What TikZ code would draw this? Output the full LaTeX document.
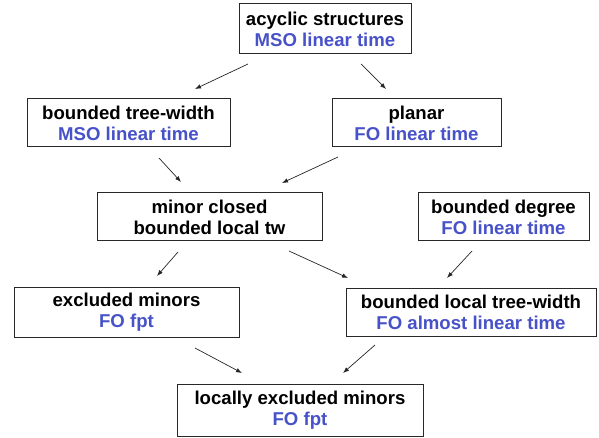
\documentclass[tikz,border=0pt]{standalone}
\usepackage{fontspec}
\setmainfont{Liberation Sans}
\usetikzlibrary{arrows.meta}
\definecolor{fblue}{RGB}{72,82,200}
\definecolor{boxline}{RGB}{40,40,40}
\tikzset{
  box/.style={draw=boxline, line width=1pt, fill=white, inner sep=0pt, align=center,
    font=\fontsize{18.6}{21}\selectfont\bfseries},
  arr/.style={-{Latex[length=6pt,width=4.5pt]}, line width=0.7pt, draw=black!85}
}
\newcommand{\blu}[1]{\textcolor{fblue}{#1}}
\begin{document}
\begin{tikzpicture}[x=1pt,y=-1pt]
\useasboundingbox (0,0) rectangle (599,438);
\node[box, minimum width=172, minimum height=50] (acyc) at (325,29) {acyclic structures\\\blu{MSO linear time}};
\node[box, minimum width=203, minimum height=48] (btw) at (128.5,123) {bounded tree-width\\\blu{MSO linear time}};
\node[box, minimum width=169, minimum height=48] (plan) at (416.5,123) {planar\\\blu{FO linear time}};
\node[box, minimum width=225, minimum height=48] (mc) at (209.5,217) {minor closed\\bounded local tw};
\node[box, minimum width=171, minimum height=48] (bd) at (503.5,217) {bounded degree\\\blu{FO linear time}};
\node[box, minimum width=225, minimum height=50] (em) at (126.5,312) {excluded minors\\\blu{FO fpt}};
\node[box, minimum width=250, minimum height=48] (blt) at (471,312) {bounded local tree-width\\\blu{FO almost linear time}};
\node[box, minimum width=246, minimum height=52] (lem) at (300,410) {locally excluded minors\\\blu{FO fpt}};

\draw[arr] ([shift={(-77,35)}]acyc.center) -- ([shift={(66.5,-34)}]btw.center);
\draw[arr] ([shift={(36,35)}]acyc.center) -- ([shift={(-30.5,-34)}]plan.center);
\draw[arr] ([shift={(30.5,35)}]btw.center) -- ([shift={(-28.5,-35)}]mc.center);
\draw[arr] ([shift={(-78.5,34)}]plan.center) -- ([shift={(72.5,-34)}]mc.center);
\draw[arr] ([shift={(-31.5,35)}]mc.center) -- ([shift={(30.5,-36)}]em.center);
\draw[arr] ([shift={(79.5,34)}]mc.center) -- ([shift={(-123,-34)}]blt.center);
\draw[arr] ([shift={(-31.5,34)}]bd.center) -- ([shift={(-24,-34)}]blt.center);
\draw[arr] ([shift={(68.5,36)}]em.center) -- ([shift={(-58,-37)}]lem.center);
\draw[arr] ([shift={(-96,33)}]blt.center) -- ([shift={(43,-37)}]lem.center);
\end{tikzpicture}
\end{document}
